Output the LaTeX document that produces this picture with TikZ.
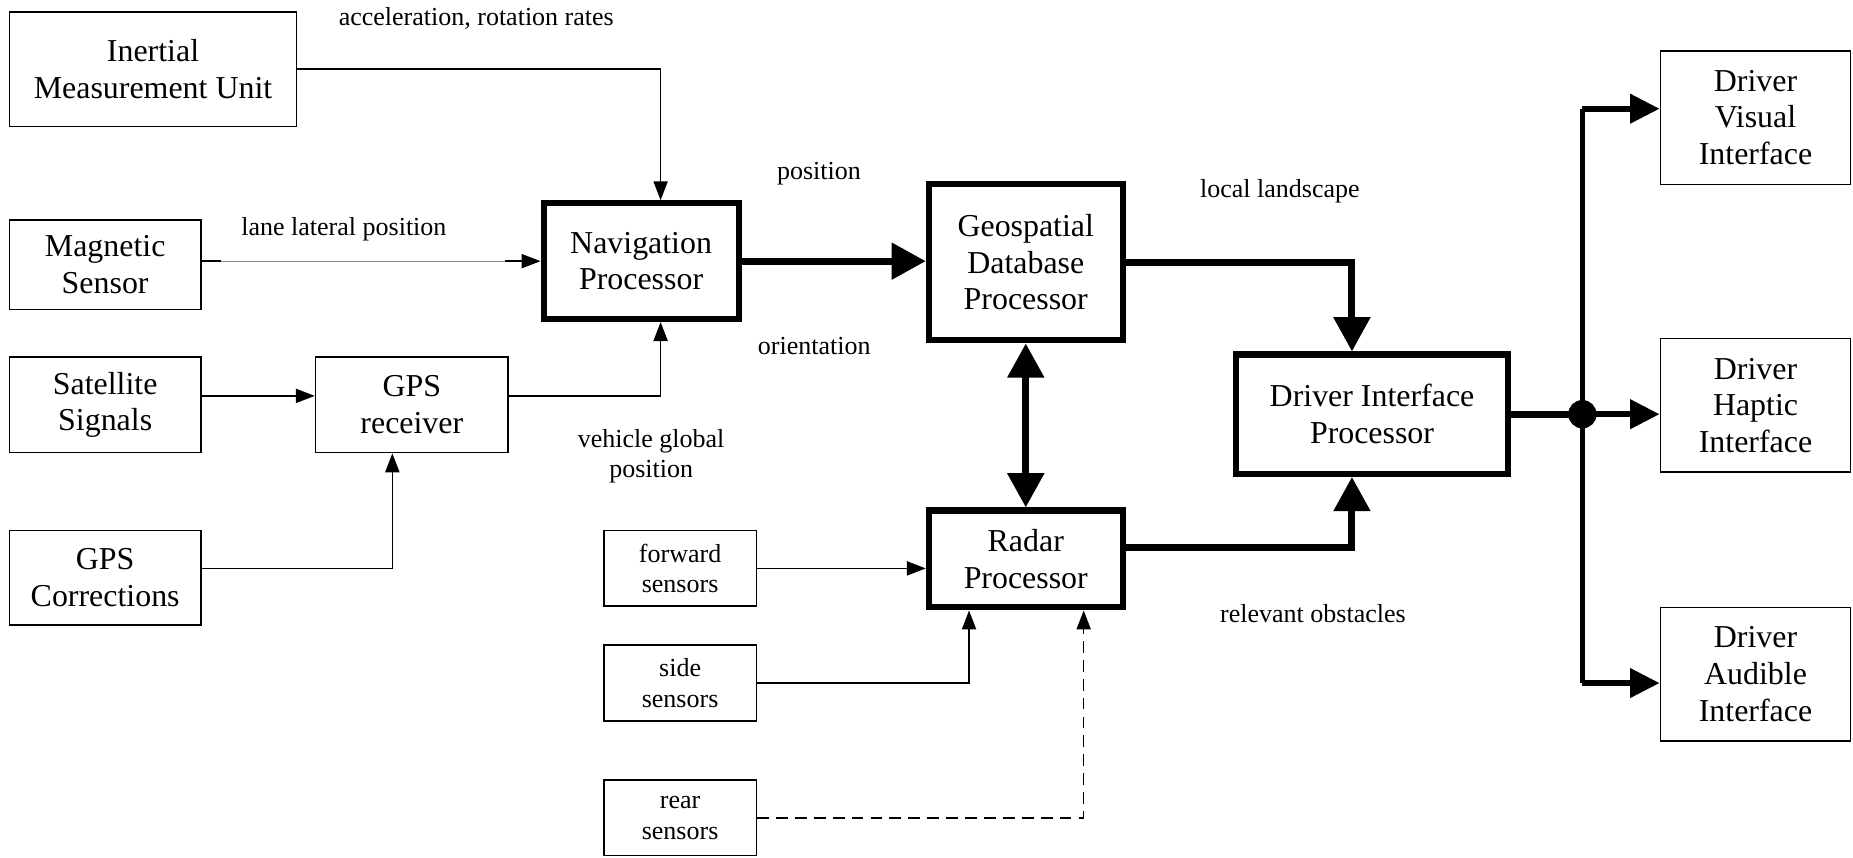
\documentclass[tikz,border=0pt]{standalone}
\usepackage{fontspec}
\setmainfont{Liberation Serif}
\usetikzlibrary{arrows.meta}

\tikzset{
    box/.style={draw, line width=0.65pt, align=center, inner sep=0pt,
        font=\fontsize{13.5}{15.5}\selectfont},
    procbox/.style={box, line width=2.6pt},
    sensbox/.style={box, font=\fontsize{11}{13}\selectfont,
        minimum width=64.5pt, minimum height=32pt},
    drvbox/.style={box, minimum width=80.5pt, minimum height=56.5pt},
    lbl/.style={font=\fontsize{11}{13}\selectfont, align=center, inner sep=0pt},
    sig/.style={line width=0.65pt, -{Triangle[length=8pt,width=6pt,color=black]}},
    bus/.style={line width=3pt, -{Triangle[length=14.5pt,width=15pt]}},
    outbus/.style={line width=2.6pt, -{Triangle[length=12.5pt,width=12pt]}}
}

\begin{document}
\begin{tikzpicture}[x=0.5pt, y=-0.5pt]
    \useasboundingbox (0,0) rectangle (1568,726);

    \node[box, minimum width=121.5pt, minimum height=48.5pt] (imu) at (129.5,58.5) {Inertial\\Measurement Unit};
    \node[box, minimum width=81pt, minimum height=38pt] (mag) at (89,224) {Magnetic\\Sensor};
    \node[box, minimum width=81pt, minimum height=40.5pt] (sat) at (89,342.5) {Satellite\\Signals};
    \node[box, minimum width=81.5pt, minimum height=40.5pt] (gpsr) at (348.5,342.5) {GPS\\receiver};
    \node[box, minimum width=81pt, minimum height=40pt] (gpsc) at (89,489) {GPS\\Corrections};

    \node[procbox, minimum width=82.5pt, minimum height=49pt] (nav) at (542.5,221) {Navigation\\Processor};
    \node[procbox, minimum width=82pt, minimum height=66pt] (geo) at (868,222) {Geospatial\\Database\\Processor};
    \node[procbox, minimum width=82pt, minimum height=41pt] (radar) at (868,473) {Radar\\Processor};
    \node[procbox, minimum width=115pt, minimum height=50.5pt] (dip) at (1161,350.5) {Driver Interface\\Processor};

    \foreach \nm/\y/\txt in {fwd/481/forward, side/578/side, rear/692/rear}{
        \node[sensbox] (\nm) at (575.5,\y) {\txt\\sensors};
    }
    \foreach \nm/\y/\txt in {visual/99.5/Visual, haptic/343/Haptic, audible/570.5/Audible}{
        \node[drvbox] (\nm) at (1485.5,\y) {Driver\\\txt\\Interface};
    }

    \node[lbl] (accl) at (403,16) {acceleration, rotation rates};
    \node[lbl] (lane) at (291,194) {lane lateral position};
    \node[lbl] (posn) at (693,147) {position};
    \node[lbl] (orient) at (689,293) {orientation};
    \node[lbl] (vgp) at (551,386) {vehicle global\\position};
    \node[lbl] (land) at (1083,162) {local landscape};
    \node[lbl] (obst) at (1111,519) {relevant obstacles};

    % inputs to the navigation processor
    \draw[sig] (imu.east |- imu) -| ([xshift=8.25pt]nav.north);
    \draw[sig, draw=black!45, line width=0.5pt] (mag.east |- nav) -- (nav.west);
    \draw[line width=0.65pt] (mag.east |- nav) -- ++(16,0);
    \draw[line width=0.65pt] (nav.west) ++(-30,0) -- ++(16,0);
    \draw[sig] ([yshift=3.75pt]sat.east) -- ([yshift=3.75pt]gpsr.west);
    \draw[sig] ([yshift=3.75pt]gpsr.east) -| ([xshift=8.25pt]nav.south);
    \draw[sig] ([yshift=4pt]gpsc.east) -| ([xshift=-8.25pt]gpsr.south);

    % processor buses
    \draw[bus] (nav.east) -- (nav.east -| geo.west);
    \draw[bus] (geo.east) -| ([xshift=-8.5pt]dip.north);
    \draw[line width=3pt, {Triangle[length=14.5pt,width=15pt]}-{Triangle[length=14.5pt,width=15pt]}] (geo.south) -- (radar.north);
    \draw[bus] ([yshift=5pt]radar.east) -| ([xshift=-8.5pt]dip.south);

    % radar sensors
    \draw[sig] (fwd.east) -- (fwd.east -| radar.west);
    \draw[sig] (side.east) -| ([xshift=-24pt]radar.south);
    \draw[sig, dash pattern=on 5pt off 3pt] (rear.east) -| ([xshift=24.5pt]radar.south);

    % driver interfaces
    \node[circle, fill, inner sep=0pt, minimum size=12pt] (dot) at (1339,350.5) {};
    \coordinate (vtop) at (1339,92);
    \coordinate (vbot) at (1339,578);
    \draw[line width=3pt] (dip.east) -- (dot.center);
    \draw[line width=2pt] (vtop) -- (vbot);
    \draw[outbus] (dot.center) -- (dot.center -| haptic.west);
    \draw[outbus] (vtop) -- (vtop -| visual.west);
    \draw[outbus] (vbot) -- (vbot -| audible.west);
\end{tikzpicture}
\end{document}
